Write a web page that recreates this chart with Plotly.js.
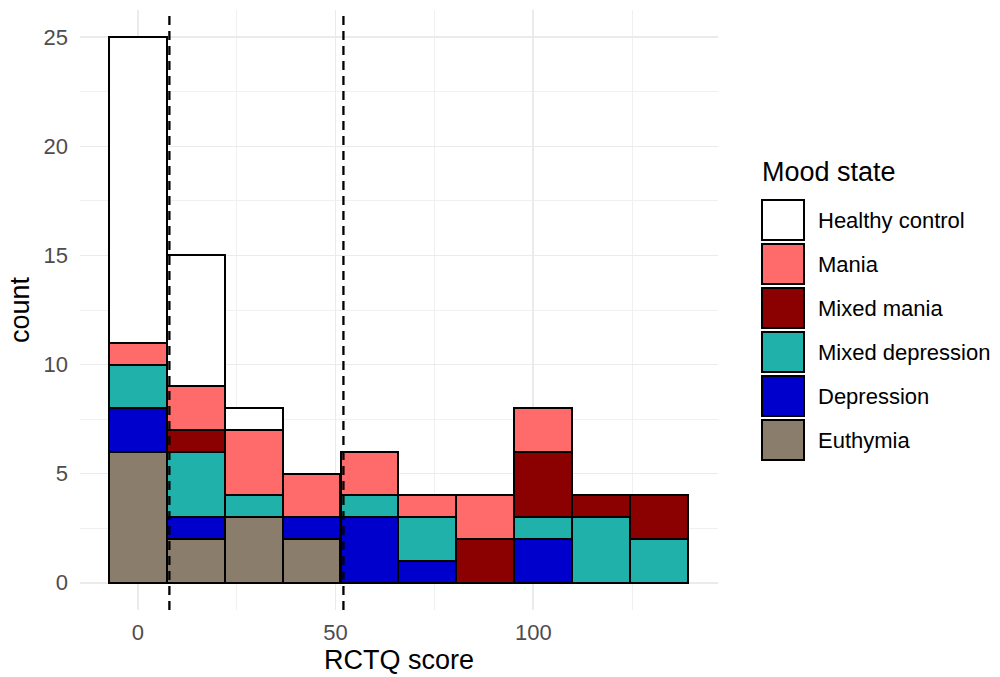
<!DOCTYPE html>
<html>
<head>
<meta charset="utf-8">
<script src="https://cdn.plot.ly/plotly-3.0.1.min.js"></script>
<style>
html,body{margin:0;padding:0;background:#fff;}
#chart{width:1000px;height:677px;}
</style>
</head>
<body>
<div id="chart"></div>
<script>
// Histogram bins (RCTQ score), bin width ~14.64
const binCenters = [0, 14.64, 29.29, 43.93, 58.58, 73.22, 87.87, 102.51, 117.16, 131.8];
const binWidth = 14.64;

// Counts per mood state per bin
const moodStates = ["Healthy control", "Mania", "Mixed mania", "Mixed depression", "Depression", "Euthymia"];
const moodColors = ["#FFFFFF", "#FF6A6A", "#8B0000", "#20B2AA", "#0000CD", "#8B7D6B"];

const euthymia        = [6, 2, 3, 2, 0, 0, 0, 0, 0, 0];
const depression      = [2, 1, 0, 1, 3, 1, 0, 2, 0, 0];
const mixedDepression = [2, 3, 1, 0, 1, 2, 0, 1, 3, 2];
const mixedMania      = [0, 1, 0, 0, 0, 0, 2, 3, 1, 2];
const mania           = [1, 2, 3, 2, 2, 1, 2, 2, 0, 0];
const healthyControl  = [14, 6, 1, 0, 0, 0, 0, 0, 0, 0];

// Thresholds (dashed lines)
const cutoffs = [8, 52];

// Axis ticks
const xTicks = [0, 50, 100];
const xMinorTicks = [25, 75, 125];
const yTicks = [0, 5, 10, 15, 20, 25];
const yMinorTicks = [2.5, 7.5, 12.5, 17.5, 22.5];

// stack order bottom -> top
const stackOrder = [
  {name: "Euthymia", values: euthymia},
  {name: "Depression", values: depression},
  {name: "Mixed depression", values: mixedDepression},
  {name: "Mixed mania", values: mixedMania},
  {name: "Mania", values: mania},
  {name: "Healthy control", values: healthyControl}
];

const traces = stackOrder.map(s => ({
  type: "bar",
  name: s.name,
  x: binCenters,
  y: s.values,
  width: binCenters.map(() => binWidth),
  marker: {color: moodColors[moodStates.indexOf(s.name)], line: {color: "#000", width: 2}},
  showlegend: false,
  hoverinfo: "x+y+name"
}));

// plot area in pixels
const L = 80, R = 718, T = 10, B = 610;
const W = 1000, H = 677;
const px2x = p => (p - L) / (R - L);
const px2y = p => (B - p) / (B - T);

const shapes = cutoffs.map(c => ({
  type: "line", xref: "x", yref: "paper", x0: c, x1: c, y0: 0, y1: 1,
  line: {color: "#000", width: 2.3, dash: "9px,6px"}
}));

const annotations = [];
// manual legend
const legX0 = 762, legW = 42, boxH = 40, step = 44, legTop = 200;
annotations.push({
  xref: "paper", yref: "paper", x: px2x(legX0 - 2), y: px2y(172), xanchor: "left", yanchor: "middle",
  text: "Mood state", showarrow: false, font: {size: 27, color: "#000"}
});
moodStates.forEach((name, i) => {
  const top = legTop + i * step;
  shapes.push({
    type: "rect", xref: "paper", yref: "paper",
    x0: px2x(legX0), x1: px2x(legX0 + legW), y0: px2y(top + boxH), y1: px2y(top),
    fillcolor: moodColors[i], line: {color: "#000", width: 2}
  });
  annotations.push({
    xref: "paper", yref: "paper", x: px2x(816), y: px2y(top + boxH / 2), xanchor: "left", yanchor: "middle",
    text: name, showarrow: false, font: {size: 22, color: "#000"}
  });
});

const layout = {
  width: W, height: H,
  margin: {l: L, r: W - R, t: T, b: H - B, pad: 0},
  paper_bgcolor: "#fff", plot_bgcolor: "#fff",
  font: {family: "Liberation Sans, Arial, Helvetica, sans-serif", color: "#000"},
  barmode: "stack",
  bargap: 0,
  xaxis: {
    range: [-14.6, 146.7],
    tickmode: "array", tickvals: xTicks, ticktext: xTicks.map(String),
    showgrid: true, gridcolor: "#EBEBEB", gridwidth: 1.6,
    minor: {tickmode: "array", tickvals: xMinorTicks, showgrid: true, gridcolor: "#F0F0F0", gridwidth: 1, ticks: ""},
    zeroline: false, showline: false, ticks: "", ticklen: 0,
    tickfont: {size: 22, color: "#4D4D4D"},
    ticklabelstandoff: 7,
    title: {text: "RCTQ score", font: {size: 27, color: "#000"}, standoff: 2}
  },
  yaxis: {
    range: [-1.25, 26.25],
    tickmode: "array", tickvals: yTicks,
    showgrid: true, gridcolor: "#EBEBEB", gridwidth: 1.6,
    minor: {tickmode: "array", tickvals: yMinorTicks, showgrid: true, gridcolor: "#F0F0F0", gridwidth: 1, ticks: ""},
    zeroline: false, showline: false, ticks: "", ticklen: 0,
    tickfont: {size: 22, color: "#4D4D4D"},
    ticklabelstandoff: 11,
    title: {text: "count", font: {size: 27, color: "#000"}, standoff: 6}
  },
  shapes: shapes,
  annotations: annotations
};

Plotly.newPlot("chart", traces, layout, {displayModeBar: false, staticPlot: true});
</script>
</body>
</html>
